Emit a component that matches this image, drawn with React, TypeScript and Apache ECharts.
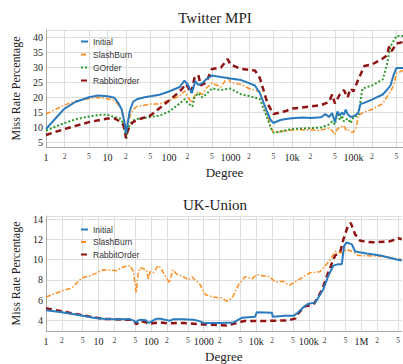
import React, { useEffect, useRef } from "react";
import * as echarts from "echarts";

// ---------- Data ----------
const seriesNamesTop = ["Initial", "SlashBurn", "GOrder", "RabbitOrder"];
const seriesNamesBottom = ["Initial", "SlashBurn", "RabbitOrder"];

const topTicks = [1, 2, 5, 10, 20, 50, 100, 200, 500, 1000, 2000, 5000, 1e4, 2e4, 5e4, 1e5, 2e5, 5e5];
const bottomTicks = [1, 2, 5, 10, 20, 50, 100, 200, 500, 1000, 2000, 5000, 1e4, 2e4, 5e4, 1e5, 2e5, 5e5, 1e6, 2e6, 5e6];
const majorTickNames: Record<number, string> = { 1: "1", 10: "10", 100: "100", 1000: "1000", 10000: "10k", 100000: "100k", 1000000: "1M" };

const twInitial: [number, number][] = [
  [1, 9.5], [1.5, 13.5], [2, 16.3], [3, 18.5], [5, 20.1], [7, 20.7], [10, 20.4], [13, 19.9], [15, 18.2], [17, 16],
  [19, 11.5], [20, 8], [21, 10.5], [23, 15.5], [26, 18.5], [30, 19.4], [40, 20.1], [50, 20.4], [70, 20.9], [100, 22],
  [150, 23.5], [178, 25.6], [200, 24.5], [236, 21.5], [268, 25.5], [300, 24.2], [350, 24.8], [400, 26], [500, 27.3],
  [700, 26.8], [1000, 26.3], [1500, 25.8], [2000, 24.8], [2500, 24], [3000, 21.5], [3500, 18], [4000, 15], [4500, 12.5],
  [5000, 11.5], [6500, 12.5], [8000, 12.8], [10000, 13.1], [15000, 13.3], [20000, 13.2], [30000, 13.4], [35000, 14.5],
  [40000, 13.5], [45000, 14.8], [50000, 11.8], [55000, 15.3], [60000, 14], [65000, 15], [70000, 14.2], [75000, 16],
  [80000, 14.5], [90000, 13.5], [100000, 13.8], [110000, 14.2], [120000, 15], [130000, 17.8], [150000, 18.2],
  [200000, 19.3], [300000, 21], [350000, 22.5], [400000, 24], [450000, 27.5], [500000, 29.8], [640000, 29.8],
];
const twSlashBurn: [number, number][] = [
  [1, 14.5], [2, 17.5], [3, 18.8], [5, 19.7], [7, 20], [10, 19.6], [13, 19], [16, 17], [18, 14], [19.5, 9], [20, 7.5],
  [21, 9.5], [23, 13.5], [26, 16], [30, 17], [50, 17.8], [70, 17.8], [100, 19], [150, 20.5], [180, 22.2], [200, 20.5],
  [230, 18.3], [260, 20.5], [300, 22], [350, 21], [400, 23], [500, 24.8], [700, 23.5], [900, 26.8], [1000, 25],
  [1500, 24.3], [2000, 23], [3000, 22], [3500, 18], [4000, 14], [4500, 10], [5000, 8.5], [6000, 8.6], [8000, 8.8],
  [10000, 9.2], [20000, 9.3], [25000, 9], [30000, 9.2], [40000, 9.8], [45000, 9], [50000, 7.6], [55000, 9.5],
  [60000, 10], [70000, 10.6], [75000, 9.2], [80000, 9.5], [90000, 8.5], [100000, 8.5], [110000, 9.5], [120000, 14],
  [150000, 15.2], [200000, 16], [300000, 18], [400000, 22], [450000, 24], [500000, 28], [640000, 29],
];
const twGOrder: [number, number][] = [
  [1, 9], [2, 11.5], [3, 12.7], [5, 13.7], [8, 14.3], [10, 14.2], [13, 13.5], [16, 13], [18, 11.5], [19.5, 8], [20, 6],
  [21, 8], [23, 11], [26, 12.3], [30, 12.8], [50, 13.5], [70, 14], [100, 15.3], [150, 18], [180, 19.5], [200, 18.2],
  [240, 17], [260, 20], [300, 21.5], [350, 20], [400, 21], [500, 23], [700, 22.5], [1000, 23], [1500, 21], [2000, 20.5],
  [3000, 19.5], [3500, 16], [4000, 13], [4500, 10], [5000, 8.3], [6000, 8.5], [10000, 9.5], [20000, 9.8], [30000, 10],
  [40000, 11], [45000, 12], [50000, 11], [55000, 15], [60000, 12.5], [65000, 14], [70000, 12], [80000, 13],
  [90000, 11.5], [100000, 13.5], [120000, 14], [140000, 23], [200000, 24], [300000, 26], [350000, 31], [400000, 37],
  [500000, 40.5], [640000, 40.5],
];
const twRabbitOrder: [number, number][] = [
  [1, 7.5], [2, 9.5], [5, 11.8], [10, 13], [13, 13], [16, 12], [18, 11], [19.5, 8], [20, 6.5], [21, 8.5], [23, 10.5],
  [26, 11.8], [30, 12.5], [50, 14], [100, 19], [150, 22], [190, 24.5], [230, 21.5], [260, 26.5], [300, 27.5],
  [330, 24], [400, 25], [500, 29.5], [700, 30], [900, 32.8], [1000, 31], [1500, 29.5], [2500, 29], [3000, 26.5],
  [3500, 22], [4000, 18], [5000, 14.5], [8000, 15.5], [10000, 16.3], [20000, 17], [30000, 17.5], [40000, 18.5],
  [45000, 21], [50000, 18], [60000, 21], [70000, 22.5], [80000, 20], [90000, 23], [100000, 22], [120000, 26],
  [150000, 30.5], [200000, 31], [300000, 33], [350000, 34], [380000, 37], [420000, 35.5], [500000, 38], [640000, 38.5],
];

const ukInitial: [number, number][] = [
  [1, 5.0], [2, 4.8], [3, 4.65], [5, 4.45], [8, 4.25], [12, 4.15], [20, 4.12], [40, 4.1], [48, 3.95], [52, 3.75],
  [56, 4.0], [62, 4.05], [80, 4.0], [89, 3.75], [95, 3.8], [110, 4.0], [125, 4.15], [150, 4.15], [212, 4.0],
  [224, 3.95], [259, 4.1], [400, 4.1], [640, 4.05], [800, 3.95], [1000, 3.75], [2000, 3.75], [3700, 3.8],
  [5300, 4.25], [9500, 4.35], [10200, 4.8], [20000, 4.75], [20500, 4.35], [35000, 4.45], [51000, 4.45], [60000, 4.7],
  [79000, 5.3], [98000, 5.65], [132000, 5.75], [150000, 6.2], [190000, 7.1], [235000, 8.4], [294000, 9.4],
  [364000, 9.55], [424000, 9.55], [470000, 11.35], [525000, 11.7], [660000, 11.5], [760000, 10.8], [1260000, 10.6],
  [2300000, 10.4], [4700000, 10.0], [5860000, 9.9],
];
const ukSlashBurn: [number, number][] = [
  [1, 6.3], [2, 6.9], [3.1, 7.2], [4.8, 8.2], [7, 8.4], [12.5, 9.0], [22, 8.9], [30, 9.3], [40, 9.4], [46, 8.8],
  [52, 6.7], [56, 8.5], [62, 9.2], [81, 9.0], [89, 8.0], [95, 8.8], [110, 8.7], [136, 9.4], [150, 9.2], [212, 7.9],
  [224, 7.7], [259, 9.0], [300, 8.6], [414, 8.3], [515, 8.0], [600, 8.3], [860, 7.5], [1070, 6.55], [1540, 6.3],
  [2220, 6.2], [2750, 5.9], [3460, 6.2], [4600, 7.5], [6150, 8.3], [8250, 8.1], [10200, 8.5], [18000, 8.3],
  [23000, 7.8], [33000, 7.85], [41000, 7.5], [44000, 7.5], [68000, 8.1], [106000, 8.7], [163000, 8.8], [250000, 9.9],
  [316000, 10.8], [424000, 10.65], [525000, 11.0], [705000, 10.75], [870000, 10.4], [1950000, 10.35],
  [3500000, 10.2], [5860000, 10.0],
];
const ukRabbitOrder: [number, number][] = [
  [1, 5.2], [3.1, 4.7], [8, 4.3], [12.5, 4.15], [40, 4.05], [48, 3.9], [52, 3.6], [62, 3.95], [80, 3.8], [89, 3.65],
  [140, 3.8], [212, 3.7], [400, 3.75], [1000, 3.6], [2750, 3.5], [5800, 3.93], [11000, 3.93], [41000, 4.0],
  [56000, 4.2], [63000, 4.7], [85000, 5.4], [123000, 5.55], [178000, 7.0], [235000, 8.75], [316000, 10.4],
  [396000, 10.75], [455000, 12.0], [565000, 13.45], [630000, 13.6], [760000, 12.5], [950000, 11.85],
  [1600000, 11.7], [3500000, 11.8], [5000000, 12.1], [5860000, 12.0],
];

// ---------- Styles ----------
const SERIF = "Liberation Serif";
const styles: Record<string, { color: string; width: number; type: any }> = {
  Initial: { color: "#2a7bbd", width: 2, type: "solid" },
  SlashBurn: { color: "#ff8c1e", width: 1.5, type: [5, 2, 1.5, 2] },
  GOrder: { color: "#2c9a2c", width: 2, type: [2, 2] },
  RabbitOrder: { color: "#8e1414", width: 2.5, type: [6, 4] },
};

const lg = (d: number) => Math.log10(d);

function makeSeries(name: string, pts: [number, number][], idx: number) {
  const s = styles[name];
  return {
    name,
    type: "line",
    xAxisIndex: idx,
    yAxisIndex: idx,
    symbol: "none",
    data: pts.map(([d, v]) => [lg(d), v]),
    lineStyle: { color: s.color, width: s.width, type: s.type },
    itemStyle: { color: s.color },
    z: name === "Initial" ? 3 : 2,
  };
}

function xLabelFmt(value: number) {
  const d = Math.round(Math.pow(10, value));
  if (majorTickNames[d]) return "{maj|" + majorTickNames[d] + "}";
  const mant = Math.round(d / Math.pow(10, Math.floor(Math.log10(d) + 1e-9)));
  return "{mnr|" + mant + "}";
}

function makeXAxis(idx: number, ticks: number[], maxDeg: number) {
  const vals = ticks.map(lg);
  return {
    type: "value",
    gridIndex: idx,
    min: 0,
    max: lg(maxDeg),
    name: "Degree",
    nameLocation: "middle",
    nameGap: 19,
    nameTextStyle: { fontFamily: SERIF, fontSize: 13, color: "#222" },
    axisLine: { show: true, lineStyle: { color: "#aaa", width: 1 } },
    axisTick: { show: false, customValues: vals },
    splitLine: { show: true, lineStyle: { color: "#ddd", width: 1 } },
    axisLabel: {
      customValues: vals,
      formatter: xLabelFmt,
      margin: 5,
      hideOverlap: false,
      rich: {
        maj: { fontFamily: SERIF, fontSize: 10, color: "#222" },
        mnr: { fontFamily: SERIF, fontSize: 7.5, color: "#444" },
      },
    },
  };
}

function makeYAxis(idx: number, min: number, max: number, step: number) {
  return {
    type: "value",
    gridIndex: idx,
    min,
    max,
    minInterval: step,
    maxInterval: step,
    name: "Miss Rate Percentage",
    nameLocation: "middle",
    nameGap: 18,
    nameTextStyle: { fontFamily: SERIF, fontSize: 12, color: "#222" },
    axisLine: { show: true, lineStyle: { color: "#aaa", width: 1 } },
    axisTick: { show: false },
    splitLine: { show: true, lineStyle: { color: "#ddd", width: 1 } },
    axisLabel: {
      fontFamily: SERIF,
      fontSize: 10,
      color: "#222",
      margin: 3,
      showMinLabel: false,
      showMaxLabel: false,
      formatter: (v: number) => (Math.abs(v / step - Math.round(v / step)) < 1e-6 ? String(Math.round(v)) : ""),
    },
  };
}

export default function App() {
  const ref = useRef<HTMLDivElement>(null);
  useEffect(() => {
    if (!ref.current) return;
    const chart = echarts.init(ref.current, null, { renderer: "svg" });
    const legendText = { fontFamily: "Liberation Sans", fontSize: 8.5, color: "#333" };
    const legendCommon = {
      orient: "vertical",
      left: 80,
      itemWidth: 7,
      itemHeight: 8,
      textStyle: legendText,
      padding: 0,
      itemStyle: { opacity: 0 },
    };
    chart.setOption({
      animation: false,
      backgroundColor: "#fff",
      title: [
        { text: "Twitter MPI", left: 210, top: 5, textAlign: "center", textStyle: { fontFamily: SERIF, fontSize: 15, fontWeight: "normal", color: "#222" } },
        { text: "UK-Union", left: 210, top: 192, textAlign: "center", textStyle: { fontFamily: SERIF, fontSize: 15, fontWeight: "normal", color: "#222" } },
      ],
      legend: [
        { ...legendCommon, data: seriesNamesTop, top: 37, itemGap: 4 },
        { ...legendCommon, data: seriesNamesBottom, top: 225, itemGap: 3.5 },
      ],
      grid: [
        { left: 46, right: 0, top: 30, height: 117 },
        { left: 46, right: 0, top: 216, height: 118 },
      ],
      xAxis: [makeXAxis(0, topTicks, 640000), makeXAxis(1, bottomTicks, 5860000)],
      yAxis: [makeYAxis(0, 3.5, 42.5, 5), makeYAxis(1, 2.95, 14.3, 2)],
      series: [
        makeSeries("Initial", twInitial, 0),
        makeSeries("SlashBurn", twSlashBurn, 0),
        makeSeries("GOrder", twGOrder, 0),
        makeSeries("RabbitOrder", twRabbitOrder, 0),
        makeSeries("Initial", ukInitial, 1),
        makeSeries("SlashBurn", ukSlashBurn, 1),
        makeSeries("RabbitOrder", ukRabbitOrder, 1),
      ],
    });
    return () => chart.dispose();
  }, []);
  return <div ref={ref} style={{ position: "fixed", left: 0, top: 0, width: 403, height: 364 }} />;
}
